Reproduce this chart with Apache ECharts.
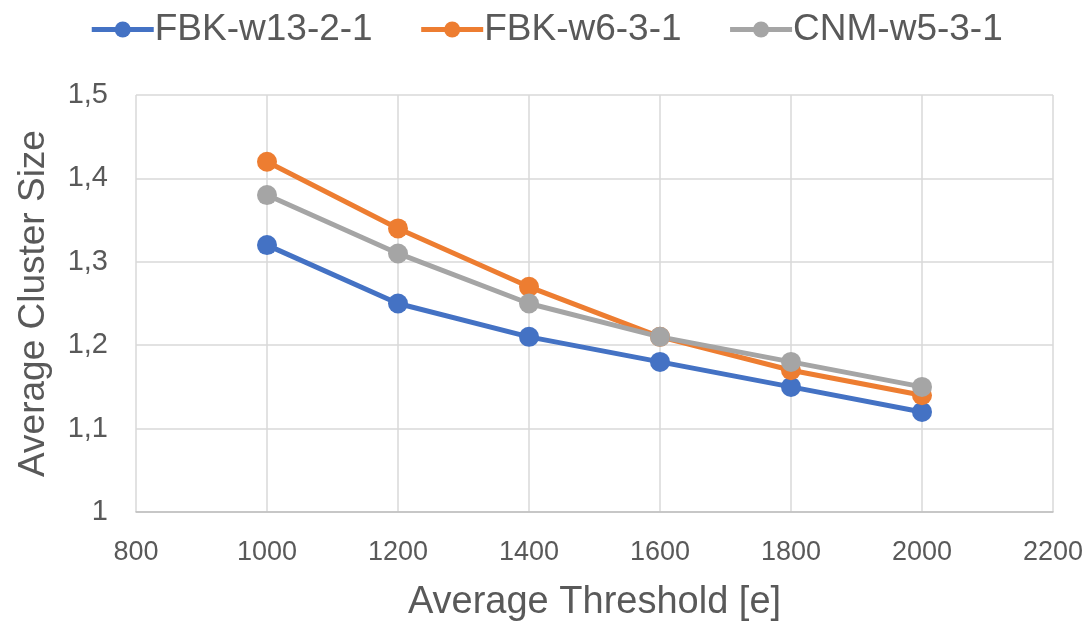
<!DOCTYPE html>
<html><head><meta charset="utf-8">
<script src="https://cdn.jsdelivr.net/npm/echarts@6/dist/echarts.min.js"></script>
<style>html,body{margin:0;padding:0;background:#fff}#c{width:1092px;height:627px}</style>
</head><body><div id="c"></div>
<script>
const thresholds = [1000, 1200, 1400, 1600, 1800, 2000];
const fbkW13 = [1.32, 1.25, 1.21, 1.18, 1.15, 1.12];
const fbkW6 = [1.42, 1.34, 1.27, 1.21, 1.17, 1.14];
const cnmW5 = [1.38, 1.31, 1.25, 1.21, 1.18, 1.15];
const seriesNames = ['FBK-w13-2-1', 'FBK-w6-3-1', 'CNM-w5-3-1'];
const colors = ['#4472C4', '#ED7D31', '#A5A5A5'];
const FONT = "'Liberation Sans Narrow', 'Liberation Sans', sans-serif";
const pair = arr => thresholds.map((t, i) => [t, arr[i]]);
const chart = echarts.init(document.getElementById('c'));
chart.setOption({
  animation: false,
  color: colors,
  textStyle: {fontFamily: FONT},
  legend: {
    top: 6, left: 'center', itemWidth: 62, itemHeight: 20, itemGap: 46,
    lineStyle: {width: 5},
    textStyle: {fontSize: 37, color: '#595959', fontFamily: FONT, padding: [0,0,0,-4]},
    data: seriesNames
  },
  grid: {left: 136, right: 39, top: 95, bottom: 114},
  xAxis: {
    type: 'value', min: 800, max: 2200, interval: 200,
    name: 'Average Threshold [e]', nameLocation: 'middle', nameGap: 72,
    nameTextStyle: {fontSize: 38, color: '#595959', fontFamily: FONT},
    axisLine: {show: true, lineStyle: {color: '#BFBFBF', width: 1.5}},
    axisTick: {show: false},
    axisLabel: {fontSize: 27, color: '#595959', margin: 27, fontFamily: FONT,
      formatter: v => String(v)},
    splitLine: {show: true, lineStyle: {color: '#D9D9D9', width: 1.5}}
  },
  yAxis: {
    type: 'value', min: 1, max: 1.5, interval: 0.1,
    name: 'Average Cluster Size', nameLocation: 'middle', nameGap: 84,
    nameTextStyle: {fontSize: 37, color: '#595959', fontFamily: FONT},
    axisLine: {show: false}, axisTick: {show: false},
    axisLabel: {fontSize: 29, color: '#595959', margin: 28, fontFamily: FONT,
      formatter: v => String(Math.round(v * 10) / 10).replace('.', ',')},
    splitLine: {show: true, lineStyle: {color: '#D9D9D9', width: 1.5}}
  },
  series: [fbkW13, fbkW6, cnmW5].map((d, i) => ({
    name: seriesNames[i], type: 'line', data: pair(d),
    symbol: 'circle', symbolSize: 20,
    lineStyle: {width: 5, color: colors[i]},
    itemStyle: {color: colors[i]}
  }))
});
</script></body></html>
